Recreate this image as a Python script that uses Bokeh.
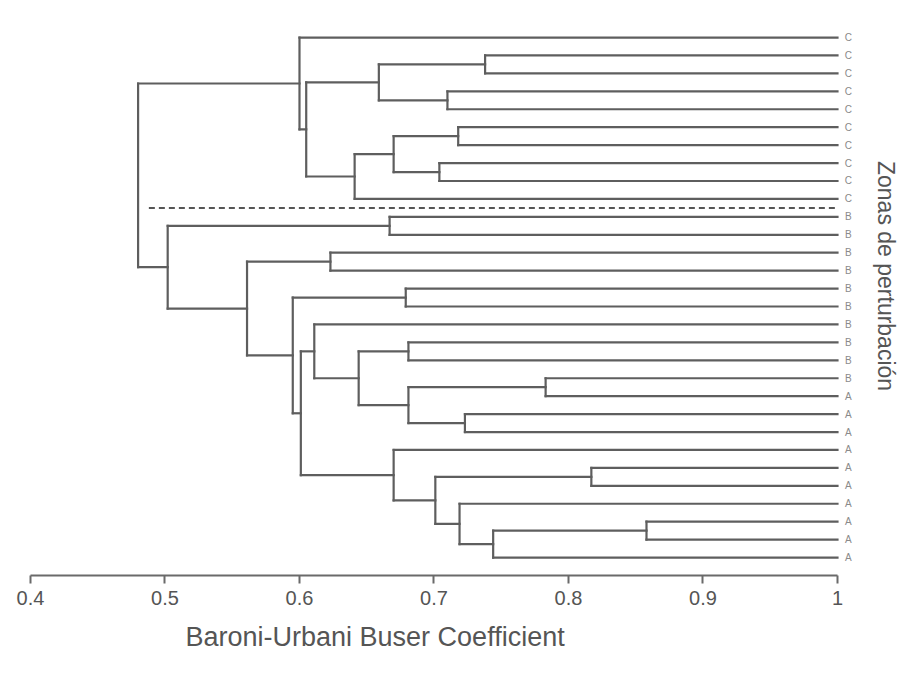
import math
from bokeh.plotting import figure
from bokeh.models import Range1d, FixedTicker, Label, Title, ColumnDataSource
from bokeh.embed import file_html
from bokeh.resources import INLINE
from bokeh.core.properties import value

# ---------------- data ----------------
leaf_labels = ["C"] * 10 + ["B"] * 10 + ["A"] * 10

# merges (scipy-like): leaves are 0..29, merge k creates node 30+k
merge_left = [1, 3, 30, 5, 7, 33, 35, 32, 0,
              10, 12, 14, 17, 19, 21, 43, 42, 16,
              24, 27, 49, 26, 48, 23, 47, 41, 40, 39, 38]
merge_right = [2, 4, 31, 6, 8, 34, 9, 36, 37,
               11, 13, 15, 18, 20, 22, 44, 45, 46,
               25, 28, 29, 50, 51, 52, 53, 54, 55, 56, 57]
merge_height = [0.738, 0.710, 0.659, 0.718, 0.704, 0.670, 0.641, 0.605, 0.600,
                0.667, 0.623, 0.679, 0.681, 0.783, 0.723, 0.681, 0.644, 0.611,
                0.817, 0.858, 0.744, 0.719, 0.701, 0.670, 0.601, 0.595, 0.561, 0.502, 0.480]

tick_values = [0.4, 0.5, 0.6, 0.7, 0.8, 0.9, 1.0]
tick_labels = ["0.4", "0.5", "0.6", "0.7", "0.8", "0.9", "1"]

cut_line_x = [0.488, 1.0]      # dashed cut separating group C from B/A
cut_after_leaf = 9

x_title = "Baroni-Urbani Buser Coefficient"
right_title = "Zonas de perturbación"

# ---------------- dendrogram geometry ----------------
n_leaves = len(leaf_labels)
xpos = {i: 1.0 for i in range(n_leaves)}
ypos = {i: float(i) for i in range(n_leaves)}
x0, y0, x1, y1 = [], [], [], []
for k, (a, b, h) in enumerate(zip(merge_left, merge_right, merge_height)):
    node = n_leaves + k
    xpos[node] = h
    ypos[node] = (ypos[a] + ypos[b]) / 2.0
    x0.append(h); y0.append(ypos[a]); x1.append(h); y1.append(ypos[b])
    for c in (a, b):
        x0.append(h); y0.append(ypos[c]); x1.append(xpos[c]); y1.append(ypos[c])

seg = ColumnDataSource(dict(x0=x0, y0=y0, x1=x1, y1=y1))
labsrc = ColumnDataSource(dict(x=[1.008] * n_leaves, y=list(range(n_leaves)), t=leaf_labels))

# ---------------- figure ----------------
p = figure(width=901, height=671, output_backend="svg", toolbar_location=None,
           title=None,
           x_range=Range1d(0.4, 1.0476), y_range=Range1d(30.0, -0.95),
           min_border_left=30, min_border_right=0, min_border_top=20, min_border_bottom=96)
p.background_fill_color = "white"
p.border_fill_color = "white"
p.outline_line_color = None
p.xgrid.visible = False
p.ygrid.visible = False
p.yaxis.visible = False

line_col = "#5e5e5e"
p.segment("x0", "y0", "x1", "y1", source=seg, line_color=line_col, line_width=2.2,
          line_cap="square")

cy = cut_after_leaf + 0.5
p.line(cut_line_x, [cy, cy], line_color="#555555", line_width=2, line_dash="6 4")

p.text("x", "y", text="t", source=labsrc, text_font=value("Liberation Sans"),
       text_font_size="10px", text_color="#8a8a8a", text_align="center",
       text_baseline="middle")

p.add_layout(Label(x=1.036, y=13.3, text=right_title, angle=-math.pi / 2,
                   text_font="Liberation Sans", text_font_size="23px",
                   text_color="#555555", text_align="center", text_baseline="middle"))

ax = p.xaxis[0]
ax.bounds = (0.4, 1.0)
ax.ticker = FixedTicker(ticks=tick_values)
ax.major_label_overrides = dict(zip(tick_values, tick_labels))
ax.minor_tick_line_color = None
ax.major_tick_in = 0
ax.major_tick_out = 8
ax.axis_line_width = 2
ax.axis_line_color = "#6a6a6a"
ax.major_tick_line_color = "#6a6a6a"
ax.major_tick_line_width = 2
ax.major_label_text_font = "Liberation Sans"
ax.major_label_text_font_size = "20px"
ax.major_label_text_color = "#555555"
ax.major_label_standoff = 7

p.add_layout(Title(text=x_title, align="left", offset=155, text_font_size="27px",
                   text_font_style="normal", text_color="#555555",
                   text_font="Liberation Sans", standoff=25), "below")

open("out.html", "w").write(file_html(p, INLINE))
